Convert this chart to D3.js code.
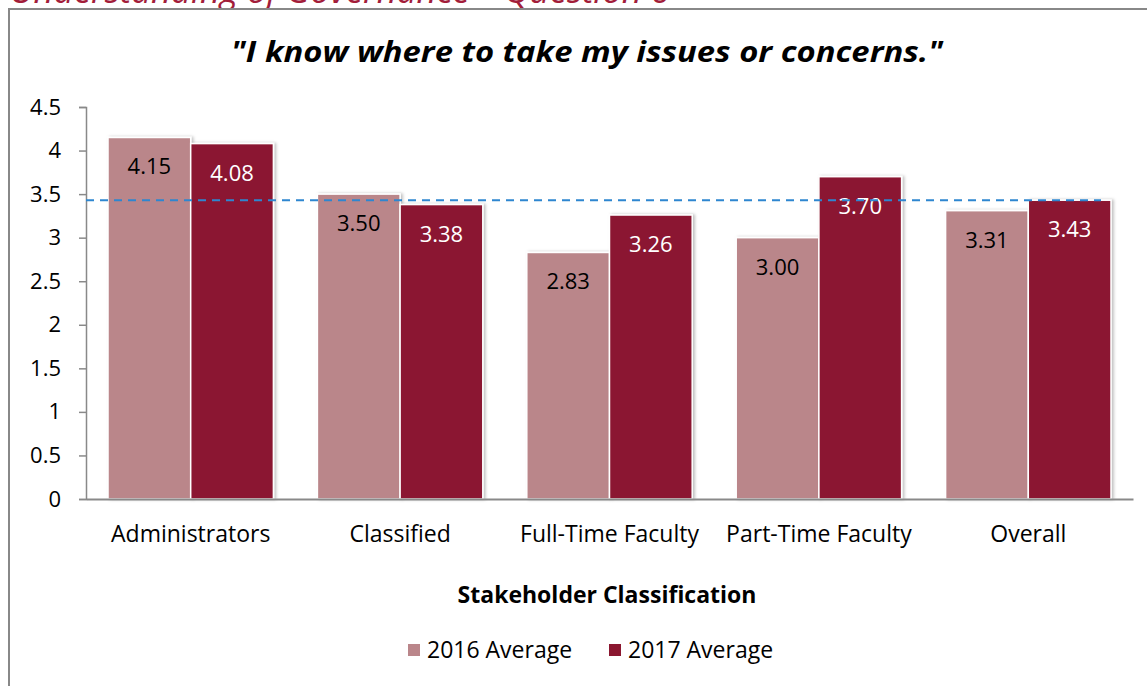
<!DOCTYPE html>
<html>
<head>
<meta charset="utf-8">
<script src="https://cdn.jsdelivr.net/npm/d3@7"></script>
<style>
  body { margin: 0; background: #fff; }
  svg { display: block; font-family: "Open Sans", "Noto Sans", sans-serif; }
</style>
</head>
<body>
<svg id="chart" width="1147" height="686"></svg>
<script>
// data
const categories = ["Administrators", "Classified", "Full-Time Faculty", "Part-Time Faculty", "Overall"];
const seriesNames = ["2016 Average", "2017 Average"];
const avg2016 = [4.15, 3.50, 2.83, 3.00, 3.31];
const avg2017 = [4.08, 3.38, 3.26, 3.70, 3.43];
const yTicks = [0, 0.5, 1, 1.5, 2, 2.5, 3, 3.5, 4, 4.5];
const overallLine = 3.43;

const colors = ["#BA868A", "#8B1730"];
const labelColors = ["#000", "#fff"];

const svg = d3.select("#chart");
const margin = {top: 107, left: 86, bottom: 187, right: 14};
const width = 1147 - margin.left - margin.right;
const height = 686 - margin.top - margin.bottom;

// slide heading, cut off by the top of the picture as in the original
svg.append("text")
    .attr("x", 10).attr("y", 3)
    .attr("font-size", 34).attr("font-style", "italic")
    .attr("textLength", 660).attr("lengthAdjust", "spacingAndGlyphs")
    .attr("fill", "#A21D3A")
    .text("Understanding of Governance – Question 6");

// chart frame
svg.append("rect")
    .attr("x", 9).attr("y", 9)
    .attr("width", 1150).attr("height", 700)
    .attr("fill", "#fff")
    .attr("stroke", "#888").attr("stroke-width", 2);

svg.append("text")
    .attr("x", 587).attr("y", 62)
    .attr("text-anchor", "middle")
    .attr("font-size", 29).attr("font-weight", "bold").attr("font-style", "italic")
    .attr("textLength", 712).attr("lengthAdjust", "spacingAndGlyphs")
    .text('"I know where to take my issues or concerns."');

const g = svg.append("g").attr("transform", "translate(" + margin.left + "," + margin.top + ")");

const x = d3.scaleBand().domain(categories).range([0, width]).paddingInner(0).paddingOuter(0);
const xs = d3.scaleBand().domain(seriesNames).range([22, x.bandwidth() - 22]).padding(0);
const y = d3.scaleLinear().domain([0, 4.5]).range([height, 0]);

const defs = svg.append("defs");
const shadow = defs.append("filter").attr("id", "shadow").attr("x", "-10%").attr("y", "-10%").attr("width", "130%").attr("height", "120%");
shadow.append("feDropShadow").attr("dx", 2).attr("dy", 0).attr("stdDeviation", 1.5).attr("flood-color", "#000").attr("flood-opacity", 0.25);

const rows = categories.map((c, i) => ({cat: c, vals: [avg2016[i], avg2017[i]]}));

const groups = g.selectAll(".cat").data(rows).enter().append("g")
    .attr("class", "cat")
    .attr("transform", d => "translate(" + x(d.cat) + ",0)");

groups.selectAll("rect").data(d => d.vals.map((v, k) => ({v, k})))
    .enter().append("rect")
    .attr("x", d => xs(seriesNames[d.k]))
    .attr("y", d => y(d.v))
    .attr("width", xs.bandwidth())
    .attr("height", d => height - y(d.v))
    .attr("fill", d => colors[d.k])
    .attr("stroke", "#fff").attr("stroke-width", 1.5)
    .attr("filter", "url(#shadow)");

// y axis
const yAxis = g.append("g").call(d3.axisLeft(y).tickValues(yTicks).tickSize(7).tickPadding(18).tickFormat(d3.format("")));
yAxis.select(".domain").attr("stroke", "#898989").attr("stroke-width", 1.5);
yAxis.selectAll(".tick line").attr("stroke", "#898989").attr("stroke-width", 1.5);
yAxis.selectAll(".tick text").attr("font-size", 22).attr("fill", "#000").attr("font-family", "Open Sans");

// x axis
const xAxis = g.append("g").attr("transform", "translate(0," + height + ")")
    .call(d3.axisBottom(x).tickSize(0).tickPadding(27));
xAxis.select(".domain").attr("stroke", "#898989").attr("stroke-width", 2);
xAxis.selectAll(".tick text").attr("font-size", 23).attr("fill", "#000").attr("font-family", "Open Sans");

// average reference line
g.append("line")
    .attr("x1", 0).attr("x2", x("Overall") + xs("2017 Average") + xs.bandwidth() - 10)
    .attr("y1", y(overallLine)).attr("y2", y(overallLine))
    .attr("stroke", "#2E86D0").attr("stroke-width", 2).attr("stroke-dasharray", "8,6");

// value labels
groups.selectAll(".lbl").data(d => d.vals.map((v, k) => ({v, k})))
    .enter().append("text")
    .attr("class", "lbl")
    .attr("x", d => xs(seriesNames[d.k]) + xs.bandwidth() / 2)
    .attr("y", d => y(d.v) + 37)
    .attr("text-anchor", "middle")
    .attr("font-size", 22)
    .attr("fill", d => labelColors[d.k])
    .text(d => d.v.toFixed(2));

// axis title
svg.append("text")
    .attr("x", 607).attr("y", 603)
    .attr("text-anchor", "middle")
    .attr("font-size", 23).attr("font-weight", "bold")
    .text("Stakeholder Classification");

// legend
const legendX = [408, 609];
const legend = svg.selectAll(".leg").data(seriesNames).enter().append("g")
    .attr("class", "leg")
    .attr("transform", (d, i) => "translate(" + legendX[i] + ",644)");
legend.append("rect").attr("width", 12).attr("height", 12).attr("fill", (d, i) => colors[i]);
legend.append("text").attr("x", 19).attr("y", 14).attr("font-size", 23).text(d => d);
</script>
</body>
</html>
